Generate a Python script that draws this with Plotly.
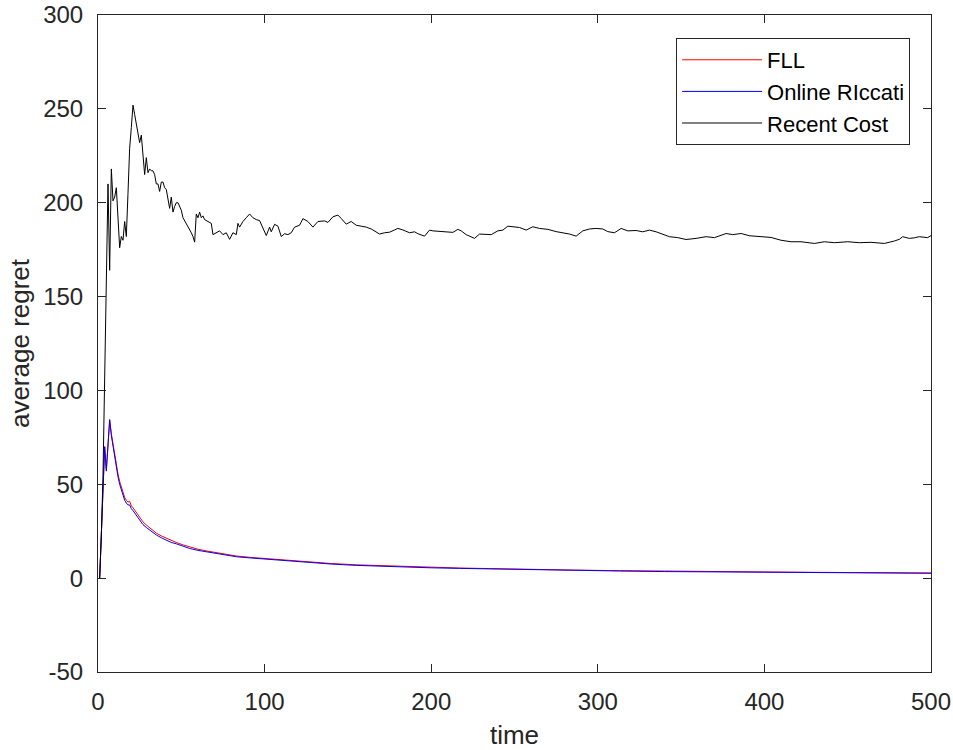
import plotly.graph_objects as go

# ---------------- data ----------------
recent_t = [1, 2, 3, 4, 5, 6, 7, 8, 9, 10, 11, 12, 13, 14, 15, 16, 17, 18, 19, 20,
            21, 22, 23, 24, 25, 26, 27, 28, 29, 30, 31, 32, 33, 34, 35, 36, 37, 38, 39, 40,
            41, 42, 43, 44, 45, 46, 47, 48, 49, 50, 51, 53, 55, 56, 57, 58, 59, 60, 61, 62,
            63, 64, 66, 68, 69, 71, 73, 75, 77, 79, 81, 83, 84, 85, 87, 89, 91, 93, 95, 97,
            99, 101, 103, 104, 106, 108, 110, 112, 114, 116, 118, 121, 123, 126, 129, 132, 136, 138, 141, 144,
            146, 149, 152, 155, 158, 161, 164, 167, 169, 172, 175, 178, 180, 183, 187, 190, 192, 196, 199, 201,
            204, 207, 210, 213, 216, 218, 221, 224, 226, 229, 233, 236, 240, 243, 246, 249, 253, 257, 261, 265,
            270, 275, 279, 283, 287, 291, 295, 299, 303, 306, 310, 314, 318, 323, 327, 331, 335, 339, 343, 348,
            353, 359, 365, 370, 373, 377, 381, 386, 391, 397, 404, 410, 416, 422, 430, 436, 442, 450, 457, 464,
            472, 478, 481, 483, 487, 490, 493, 498, 500]
recent_cost = [0, 22, 55, 100, 150, 210, 164, 218, 201, 203, 208, 192, 176, 182, 180, 190, 182, 205, 229, 240,
               252, 247, 242, 238, 232, 236, 226, 215, 224, 216, 218, 217, 217, 215, 210, 210, 206, 211, 211, 208,
               207, 202, 197, 203, 195, 198, 200, 200, 198, 196, 192, 189, 186, 184, 182, 179, 194, 192, 195, 192,
               193, 191, 190, 189, 183, 184, 185, 183, 184, 180.5, 184, 183, 189, 187, 190, 192, 194, 192, 191, 190.5,
               186, 182.5, 187, 184.5, 188.5, 187.5, 182, 183.5, 183, 184, 187, 188, 191.5, 190, 187, 190, 190.3, 189.5, 192.5, 193.4,
               191.6, 188.6, 190, 188, 187.5, 187, 186, 184.5, 183.3, 184, 184.3, 185.5, 186.3, 185.5, 184, 184.5, 183.5, 182.2, 185.4, 185,
               184.8, 184.6, 184.5, 184.2, 185.8, 185, 183, 182, 181, 183.3, 183.3, 183, 185, 185.4, 187.5, 187.3, 186.8, 185.4, 187.2, 186.3,
               185.8, 184.6, 184, 183.3, 182.2, 185, 186, 186.3, 186, 184.6, 184, 186.3, 185, 185.2, 184.5, 185.4, 184.5, 183.3, 181.9, 181.4,
               180.4, 181, 181.9, 181.4, 182.4, 183.6, 183, 183.6, 182.4, 181.9, 181.5, 180, 179.2, 179.2, 178.3, 179.2, 178.7, 179.2, 178.7, 178.9,
               178.3, 179.6, 180.5, 181.9, 181, 181.3, 181.9, 181.4, 182.5]

regret_t = [1, 2, 3, 4, 5, 6, 7, 8, 9, 10, 11, 12, 13, 14, 15, 16, 17, 18, 19, 20,
            21, 23, 25, 27, 29, 31, 33, 35, 38, 41, 44, 47, 51, 55, 60, 65, 70, 75, 83, 91,
            100, 107, 117, 127, 140, 155, 170, 185, 200, 217, 235, 260, 285, 313, 340, 370, 400, 430, 460, 500]
fll = [0, 25, 52, 70, 58, 73, 84, 77, 71, 65.5, 59.5, 55.5, 51.5, 48.5, 46, 43, 41.5, 40.5, 41, 38.5,
       37.5, 35, 32.5, 30, 28.3, 26.8, 25.2, 24, 22.5, 21.2, 20, 19, 17.7, 16.5, 15.4, 14.5, 13.7, 12.8, 11.8, 11.1,
       10.5, 9.9, 9.3, 8.5, 7.8, 7.1, 6.6, 6.1, 5.7, 5.4, 5.1, 4.6, 4.3, 4.0, 3.7, 3.5, 3.3, 3.1, 2.95, 2.75]
online_riccati = [0, 25, 50, 70, 57, 72, 84.5, 76, 70, 64, 58, 54, 50, 47, 44, 41.5, 40, 39, 39, 37,
                  36, 33.5, 31, 28.5, 27, 25.6, 24, 23, 21.5, 20.2, 19, 18.3, 17, 15.8, 14.8, 14, 13.2, 12.3, 11.4, 10.8,
                  10.2, 9.6, 9, 8.2, 7.5, 6.8, 6.3, 5.9, 5.5, 5.2, 4.9, 4.4, 4.1, 3.8, 3.5, 3.3, 3.1, 2.95, 2.8, 2.6]

x_ticks = [0, 100, 200, 300, 400, 500]
y_ticks = [-50, 0, 50, 100, 150, 200, 250, 300]

FONT = "Liberation Sans, Arial, Helvetica, sans-serif"
AX = "#262626"
TICK_SIZE = 24
LABEL_SIZE = 26

fig = go.Figure()
fig.add_trace(go.Scatter(x=regret_t, y=fll, mode="lines", name="FLL",
                         line=dict(color="#FF0000", width=1)))
fig.add_trace(go.Scatter(x=regret_t, y=online_riccati, mode="lines", name="Online RIccati",
                         line=dict(color="#0000FF", width=1)))
fig.add_trace(go.Scatter(x=recent_t, y=recent_cost, mode="lines", name="Recent Cost",
                         line=dict(color="#000000", width=1)))

axis_common = dict(showline=True, linecolor=AX, linewidth=1, mirror="ticks",
                   ticks="inside", ticklen=8, tickcolor=AX, tickwidth=1,
                   showgrid=False, zeroline=False, automargin=False,
                   ticklabeloverflow="allow",
                   tickfont=dict(family=FONT, size=TICK_SIZE, color=AX))

fig.update_xaxes(range=[0, 500], tickvals=x_ticks, ticktext=[str(v) for v in x_ticks],
                 title=dict(text="time", font=dict(family=FONT, size=LABEL_SIZE, color=AX), standoff=14),
                 ticklabelstandoff=8,
                 **axis_common)
fig.update_yaxes(range=[-50, 300], tickvals=y_ticks, ticktext=[str(v) for v in y_ticks],
                 title=dict(text="average regret", font=dict(family=FONT, size=LABEL_SIZE, color=AX), standoff=6),
                 ticklabelstandoff=9,
                 **axis_common)

fig.update_layout(
    width=953, height=750,
    margin=dict(l=98, r=22, t=15, b=78, autoexpand=False),
    plot_bgcolor="white", paper_bgcolor="white",
    font=dict(family=FONT, size=TICK_SIZE, color=AX),
    showlegend=True,
    legend=dict(x=0.694, y=0.965, xanchor="left", yanchor="top",
                bgcolor="white", bordercolor=AX, borderwidth=1,
                font=dict(family=FONT, size=22, color="#000000"),
                itemwidth=80, tracegroupgap=0),
)

# remove the default 8px page margin so the figure fills the window exactly
fig.write_html("out.html",
               config={"displayModeBar": False},
               post_script="document.body.style.margin='0';document.body.style.overflow='hidden';")
